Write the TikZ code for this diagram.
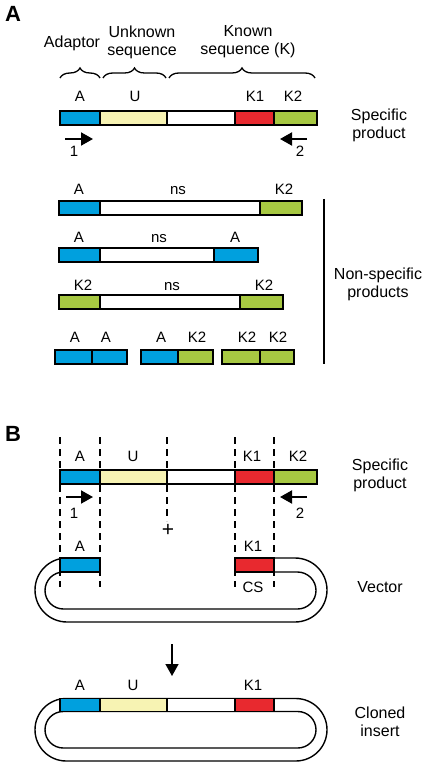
\documentclass[tikz,border=0pt]{standalone}
\usepackage{fontspec}
\setmainfont{Liberation Sans}
\usetikzlibrary{arrows.meta,decorations.pathreplacing,shapes.misc}
\definecolor{SegBlue}{HTML}{00A0DE}
\definecolor{SegYellow}{HTML}{F7F3B3}
\definecolor{SegRed}{HTML}{E8292F}
\definecolor{SegGreen}{HTML}{A7C842}

\begin{document}
\begin{tikzpicture}[
    x=1pt, y=-1pt,
    seg/.style={draw, line width=1.6pt, inner sep=0pt, outer sep=0pt, anchor=north west, minimum height=14pt},
    lab/.style={font=\fontsize{15}{18}\selectfont, inner sep=0pt, anchor=base},
    side/.style={font=\fontsize{16}{18}\selectfont, inner sep=0pt, align=center},
    panel/.style={font=\fontsize{22}{22}\selectfont\bfseries, inner sep=0pt, anchor=base west},
    primer/.style={-{Triangle[length=12pt,width=13pt]}, line width=1.9pt},
    cutline/.style={line width=1.2pt, dash pattern=on 7pt off 5pt},
    ring/.style={line width=1.4pt},
    bracket/.style={decorate, decoration={brace, amplitude=10pt}, line width=1.3pt}
 ]
\useasboundingbox (0,0) rectangle (428,767);

% ---------------- panel A
\node[panel] (pA) at (5,22) {A};

\node[side] (adaptor) at (72,43) {Adaptor};
\node[side] (unknown) at (142,42) {Unknown\\sequence};
\node[side] (known) at (248,42) {Known\\sequence (K)};
\draw[bracket] (60,78) -- (100,78);
\draw[bracket] (103,78) -- (166,78);
\draw[bracket] (169,78) -- (315,78);

\foreach \n/\xa/\xb/\c in {a1/60/100/SegBlue, u1/100/167/SegYellow, w1/167/235/white, ka1/235/274/SegRed, kb1/274/317/SegGreen}
    \node[seg, fill=\c, minimum width={(\xb-\xa)*1pt}] (\n) at (\xa,111) {};
\foreach \n/\x/\t in {la1/80/A, lu1/135/U, lka1/255/K1, lkb1/293/K2}
    \node[lab] (\n) at (\x,102) {\t};

\coordinate (p1a) at (65,139); \coordinate (p1b) at (93,139);
\coordinate (p2a) at (307,139); \coordinate (p2b) at (280,139);
\draw[primer] (p1a) -- (p1b);
\draw[primer] (p2a) -- (p2b);
\node[lab] (n1a) at (74,157) {1};
\node[lab] (n2a) at (300,157) {2};
\node[side] (specA) at (379,125.5) {Specific\\product};

% non-specific products
\foreach \n/\xa/\xb/\c in {r1a/59/100/SegBlue, r1b/100/260/white, r1c/260/302/SegGreen}
    \node[seg, fill=\c, minimum width={(\xb-\xa)*1pt}] (\n) at (\xa,201) {};
\foreach \n/\xa/\xb/\c in {r2a/59/100/SegBlue, r2b/100/214/white, r2c/214/258/SegBlue}
    \node[seg, fill=\c, minimum width={(\xb-\xa)*1pt}] (\n) at (\xa,248) {};
\foreach \n/\xa/\xb/\c in {r3a/59/100/SegGreen, r3b/100/240/white, r3c/240/283/SegGreen}
    \node[seg, fill=\c, minimum width={(\xb-\xa)*1pt}] (\n) at (\xa,295) {};
\foreach \n/\xa/\xb/\c in {d1a/55/92/SegBlue, d1b/92/127/SegBlue, d2a/141/178/SegBlue, d2b/178/213/SegGreen, d3a/222/260/SegGreen, d3b/260/294/SegGreen}
    \node[seg, fill=\c, minimum width={(\xb-\xa)*1pt}] (\n) at (\xa,350) {};

\foreach \n/\x/\y/\t in {lr1a/79/195/A, lr1b/178/195/ns, lr1c/284/195/K2,
                         lr2a/79/242/A, lr2b/159/242/ns, lr2c/235/242/A,
                         lr3a/83/290/K2, lr3b/172/290/ns, lr3c/264/290/K2,
                         ld1a/75/342/A, ld1b/106/342/A, ld2a/161/342/A,
                         ld2b/197/342/K2, ld3a/247/342/K2, ld3b/278/342/K2}
    \node[lab] (\n) at (\x,\y) {\t};

\coordinate (vtop) at (324,199); \coordinate (vbot) at (324,364);
\draw[line width=1.2pt] (vtop) -- (vbot);
\node[side] (nonspec) at (378,284.5) {Non-specific\\products};

% ---------------- panel B
\node[panel] (pB) at (5,441) {B};

\foreach \x/\yb in {60/587, 100/587, 167/521, 235/587, 274/587}
    \draw[cutline] (\x,437) -- (\x,\yb);

\foreach \n/\xa/\xb/\c in {a2/60/100/SegBlue, u2/100/167/SegYellow, w2/167/235/white, ka2/235/274/SegRed, kb2/274/317/SegGreen}
    \node[seg, fill=\c, minimum width={(\xb-\xa)*1pt}] (\n) at (\xa,470) {};
\foreach \n/\x/\t in {la2/80/A, lu2/133/U, lka2/252/K1, lkb2/298/K2}
    \node[lab] (\n) at (\x,461) {\t};

\coordinate (q1a) at (66,497); \coordinate (q1b) at (93,497);
\coordinate (q2a) at (307,497); \coordinate (q2b) at (280,497);
\draw[primer] (q1a) -- (q1b);
\draw[primer] (q2a) -- (q2b);
\node[lab] (n1b) at (74,518) {1};
\node[lab] (n2b) at (300,518) {2};
\node[side] (specB) at (380,475.5) {Specific\\product};
\node[side, font=\fontsize{21}{21}\selectfont] (plus) at (168,530) {+};

% vector
\draw[ring] (80,558) -- (67,558) arc[start angle=270, end angle=90, radius=32] -- (295,622)
    arc[start angle=90, end angle=-90, radius=32] -- (274,558);
\draw[ring] (80,572) -- (63.5,572) arc[start angle=270, end angle=90, radius=18.5] -- (297.5,609)
    arc[start angle=90, end angle=-90, radius=18.5] -- (274,572);
\node[seg, fill=SegBlue, minimum width=40pt] (a3) at (60,558) {};
\node[seg, fill=SegRed, minimum width=39pt] (ka3) at (235,558) {};
\node[lab] (la3) at (80,551) {A};
\node[lab] (lka3) at (253,551) {K1};
\node[lab] (cs) at (253,592) {CS};
\node[side, anchor=base] (vector) at (380,592) {Vector};

\coordinate (dtop) at (172,644); \coordinate (dbot) at (172,676);
\draw[primer, line width=1.5pt] (dtop) -- (dbot);

% cloned insert
\node[ring, draw, rounded rectangle, minimum width=292pt, minimum height=62.5pt, inner sep=0pt] (outer) at (181,729.75) {};
\node[ring, draw, rounded rectangle, minimum width=271pt, minimum height=36.5pt, inner sep=0pt] (inner) at (180.5,729.75) {};
\foreach \n/\xa/\xb/\c in {a4/60/100/SegBlue, u4/100/167/SegYellow, w4/167/235/white, ka4/235/274/SegRed}
    \node[seg, fill=\c, minimum width={(\xb-\xa)*1pt}, minimum height=13pt] (\n) at (\xa,698.5) {};
\foreach \n/\x/\t in {la4/80/A, lu4/133/U, lka4/253/K1}
    \node[lab] (\n) at (\x,690) {\t};
\node[side] (cloned) at (380,722) {Cloned\\insert};

\end{tikzpicture}
\end{document}
